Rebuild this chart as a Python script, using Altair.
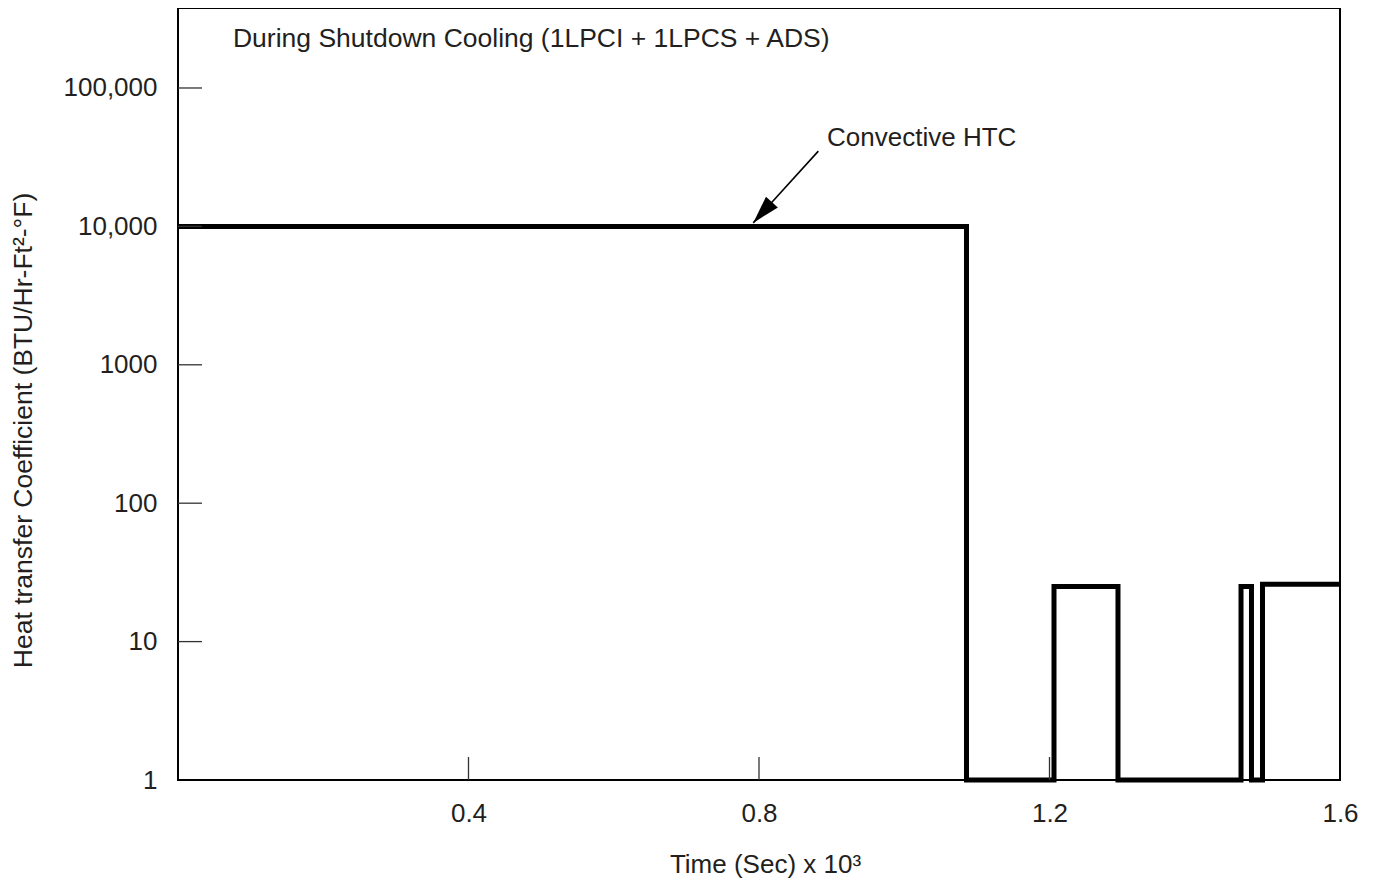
import altair as alt
import pandas as pd

# Step series (time in 10^3 s, HTC in BTU/Hr-Ft2-F)
time_k = [0.0, 1.0857, 1.2062, 1.2943, 1.4637, 1.4781, 1.4933, 1.6]
htc = [10000, 1, 25, 1, 25, 1, 26, 26]

# Axis ticks / labels
x_label_values = [0.4, 0.8, 1.2, 1.6]
y_label_values = [1, 10, 100, 1000, 10000, 100000]
inner_x_ticks = [0.4, 0.8, 1.2]
inner_y_ticks = [10, 100, 1000, 10000, 100000]

# Annotations
header_text = ["During Shutdown Cooling (1LPCI + 1LPCS + ADS)"]
header_x = [0.0757]
header_y = [197800]
callout_text = ["Convective HTC"]
callout_x = [0.8937]
callout_y = [38000]
arrow_from_x = [0.8817]
arrow_from_y = [35000]
arrow_to_x = [0.792]
arrow_to_y = [10600]

FONT = "Liberation Sans"
INK = "#231f20"

xscale = alt.Scale(domain=[0, 1.6], nice=False, zero=False)
yscale = alt.Scale(type="log", domain=[1, 378400], nice=False)

XAXIS = alt.Axis(
    values=x_label_values, format=".1f", grid=False, domain=False,
    ticks=False, tickSize=0, labelPadding=20, labelFlush=False,
    labelFontSize=26, labelFont=FONT, labelColor=INK,
    title="Time (Sec) x 10³", titleFont=FONT, titleFontSize=26,
    titleFontWeight="normal", titleColor=INK, titleX=587, titleY=92,
    titleAlign="center", titleBaseline="alphabetic")
YAXIS = alt.Axis(
    values=y_label_values,
    labelExpr="datum.value >= 10000 ? format(datum.value, ',') : format(datum.value, 'd')",
    grid=False, domain=False, ticks=False, tickSize=0, labelPadding=21,
    labelFlush=False, labelFontSize=26, labelFont=FONT, labelColor=INK,
    title="Heat transfer Coefficient (BTU/Hr-Ft²-°F)", titleFont=FONT,
    titleFontSize=26.5, titleFontWeight="normal", titleColor=INK,
    titleAngle=270, titleX=-155, titleY=422, titleAlign="center",
    titleBaseline="middle")


def X(field):
    return alt.X(field, scale=xscale, axis=XAXIS)


def Y(field):
    return alt.Y(field, scale=yscale, axis=YAXIS)


df = pd.DataFrame({"t": time_k, "h": htc})

line = alt.Chart(df).mark_line(
    interpolate="step-after", color="black", strokeWidth=5,
    strokeJoin="miter", strokeCap="butt", clip=False
).encode(x=X("t:Q"), y=Y("h:Q"))

ytick_df = pd.DataFrame({"v": inner_y_ticks})
yticks = alt.Chart(ytick_df).mark_rule(color="#333333", strokeWidth=1.3).encode(
    y=Y("v:Q"), x=alt.value(0), x2=alt.value(24),
)

xtick_df = pd.DataFrame({"v": inner_x_ticks})
xticks = alt.Chart(xtick_df).mark_rule(color="#333333", strokeWidth=1.3).encode(
    x=X("v:Q"), y=alt.value(749), y2=alt.value(772),
)

header = alt.Chart(pd.DataFrame({"x": header_x, "y": header_y, "s": header_text})).mark_text(
    align="left", baseline="alphabetic", fontSize=26.5, font=FONT, color=INK
).encode(x=X("x:Q"), y=Y("y:Q"), text="s:N")

callout = alt.Chart(pd.DataFrame({"x": callout_x, "y": callout_y, "s": callout_text})).mark_text(
    align="left", baseline="alphabetic", fontSize=26, font=FONT, color=INK
).encode(x=X("x:Q"), y=Y("y:Q"), text="s:N")

arrow_df = pd.DataFrame({"x": arrow_from_x, "y": arrow_from_y, "x2": arrow_to_x, "y2": arrow_to_y})
arrow_line = alt.Chart(arrow_df).mark_rule(color="black", strokeWidth=1.6).encode(
    x=X("x:Q"), y=Y("y:Q"), x2="x2:Q", y2="y2:Q",
)
arrow_head = alt.Chart(arrow_df).mark_point(
    shape="M0,0L-0.57,-2L0.57,-2Z", size=784, filled=True, color="black",
    opacity=1, angle=42, strokeWidth=0
).encode(x=X("x2:Q"), y=Y("y2:Q"))

chart = alt.layer(line, yticks, xticks, header, callout, arrow_line, arrow_head).properties(
    width=1162, height=772,
    autosize=alt.AutoSizeParams(type="none"),
    padding={"left": 170, "top": 0, "right": 30, "bottom": 101},
    background="white",
).configure_view(stroke="black", strokeWidth=2)

chart.save("out.html", embed_options={"renderer": "svg", "actions": False})
